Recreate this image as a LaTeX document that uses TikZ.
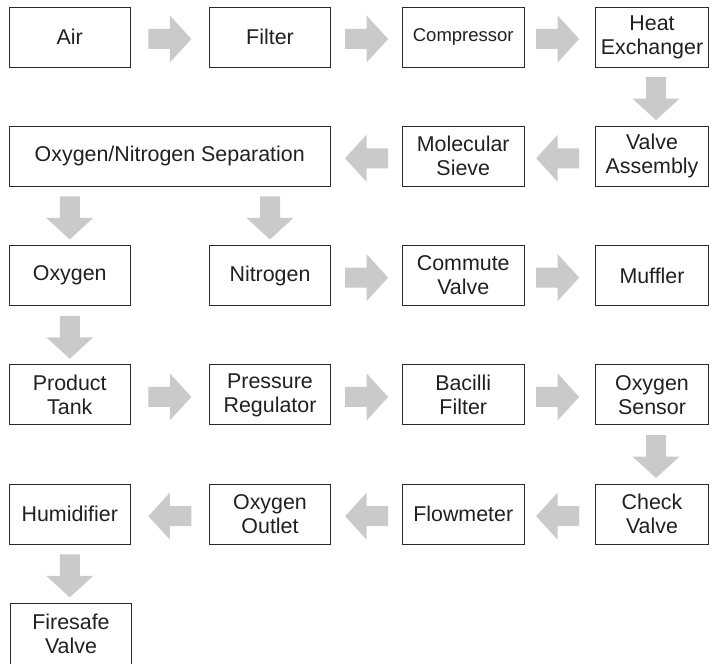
\documentclass[tikz,border=0pt]{standalone}
\usepackage{fontspec}
\setmainfont{Liberation Sans}
\usetikzlibrary{calc}
\definecolor{arr}{RGB}{201,202,203}
\definecolor{txt}{RGB}{35,31,32}
\definecolor{edge}{RGB}{45,42,42}
\tikzset{
  box/.style={draw=edge, line width=0.9pt, minimum height=60pt, minimum width=121.5pt,
    inner sep=0pt, align=center, text=txt, font=\fontsize{21.4}{24}\selectfont},
  narrowbox/.style={box, minimum width=113.5pt},
  blockarrow/.style={fill=arr, draw=none}
}
\newcommand\blockarr[2]{\fill[blockarrow, shift={#1}, yshift=-2pt, rotate=#2]
  (-21.5,-10) -- (0,-10) -- (0,-23.5) -- (21.5,0) -- (0,23.5) -- (0,10) -- (-21.5,10) -- cycle;}
\begin{document}
\begin{tikzpicture}[x=1pt,y=-1pt]
\useasboundingbox (0,0) rectangle (711,663);
% rows: 37, 156.3, 275.6, 394.9, 514.2, 633.5 ; cols: 69.75, 270, 463.25, 652
\node[box] (air) at (69.75,37) {Air};
\node[box] (filter) at (270,37) {Filter};
\node[box, font=\fontsize{18.5}{22}\selectfont] (comp) at (463.25,37) {Compressor};
\node[narrowbox] (heat) at (652,37) {Heat\\Exchanger};

\node[box, minimum width=321.5pt] (sep) at (169.75,156.3) {Oxygen/Nitrogen Separation};
\node[box] (sieve) at (463.25,156.3) {Molecular\\Sieve};
\node[narrowbox] (valve) at (652,156.3) {Valve\\Assembly};

\node[box] (oxy) at (69.75,275.6) {Oxygen};
\node[box] (nit) at (270,275.6) {Nitrogen};
\node[box] (commute) at (463.25,275.6) {Commute\\Valve};
\node[narrowbox] (muffler) at (652,275.6) {Muffler};

\node[box] (tank) at (69.75,394.9) {Product\\Tank};
\node[box] (reg) at (270,394.9) {Pressure\\Regulator};
\node[box] (bacilli) at (463.25,394.9) {Bacilli\\Filter};
\node[narrowbox] (sensor) at (652,394.9) {Oxygen\\Sensor};

\node[box] (humid) at (69.75,514.2) {Humidifier};
\node[box] (outlet) at (270,514.2) {Oxygen\\Outlet};
\node[box] (flow) at (463.25,514.2) {Flowmeter};
\node[narrowbox] (check) at (652,514.2) {Check\\Valve};

\node[box, minimum height=66pt, text depth=6pt] (fire) at (71,636.5) {Firesafe\\Valve};

% arrows
\blockarr{($(air)!0.5!(filter)$)}{0}
\blockarr{($(filter)!0.5!(comp)$)}{0}
\blockarr{($(comp)!0.5!(heat)$)}{0}
\blockarr{($(heat)!0.5!(valve)+(4,0)$)}{-90}
\blockarr{($(valve)!0.5!(sieve)$)}{180}
\blockarr{($(sieve.west)!0.5!(sep.east)$)}{180}
\blockarr{($(sep.south -| oxy)!0.5!(oxy.north)$)}{-90}
\blockarr{($(sep.south -| nit)!0.5!(nit.north)$)}{-90}
\blockarr{($(nit)!0.5!(commute)$)}{0}
\blockarr{($(commute)!0.5!(muffler)$)}{0}
\blockarr{($(oxy)!0.5!(tank)$)}{-90}
\blockarr{($(tank)!0.5!(reg)$)}{0}
\blockarr{($(reg)!0.5!(bacilli)$)}{0}
\blockarr{($(bacilli)!0.5!(sensor)$)}{0}
\blockarr{($(sensor)!0.5!(check)+(4,0)$)}{-90}
\blockarr{($(check)!0.5!(flow)$)}{180}
\blockarr{($(flow)!0.5!(outlet)$)}{180}
\blockarr{($(outlet)!0.5!(humid)$)}{180}
\blockarr{($(humid.south)!0.5!(fire.north -| humid)$)}{-90}
\end{tikzpicture}
\end{document}
